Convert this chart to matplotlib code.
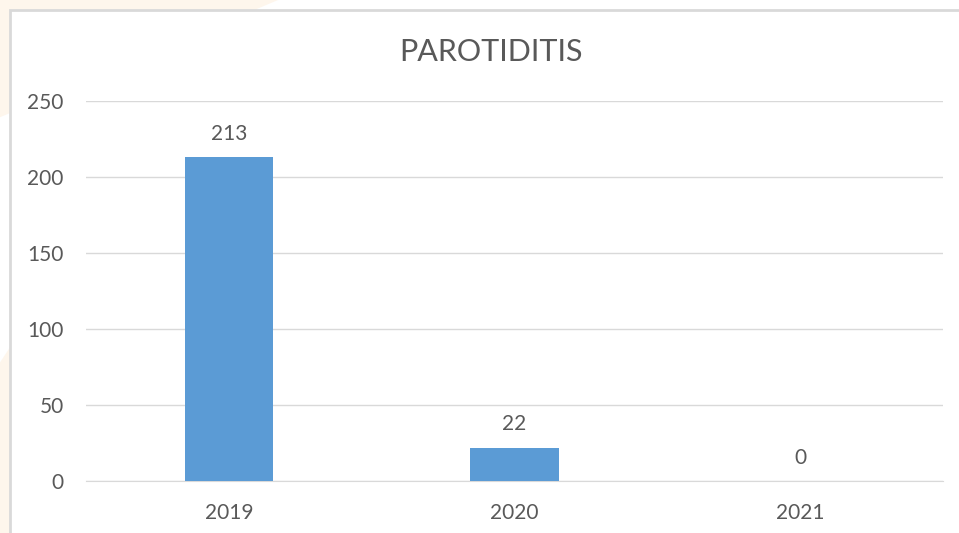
import matplotlib.pyplot as plt
from matplotlib.patches import Rectangle, Polygon

years = ["2019", "2020", "2021"]
cases = [213, 22, 0]
yticks = [0, 50, 100, 150, 200, 250]

TXT = "#595959"
plt.rcParams["font.family"] = ["Lato", "DejaVu Sans"]

fig = plt.figure(figsize=(9.59, 5.33), dpi=100)
fig.patch.set_facecolor("white")

# faint orange backdrop outside the chart frame
fig.patches.append(Polygon([(0, 1), (0.29, 1), (0, 0.78)], closed=True,
                           transform=fig.transFigure, facecolor="#FEF6EC",
                           edgecolor="none", zorder=0))
fig.patches.append(Polygon([(0, 0), (0.011, 0), (0.011, 0.35), (0, 0.32)], closed=True,
                           transform=fig.transFigure, facecolor="#FEF6EC",
                           edgecolor="none", zorder=0))
# chart frame
fig.patches.append(Rectangle((10 / 959, -0.1), 1.2, 1 - 10 / 533 + 0.1,
                             transform=fig.transFigure, facecolor="white",
                             edgecolor="#D9D9D9", linewidth=2, zorder=1))

ax = fig.add_axes([86 / 959, 1 - 481 / 533, (943 - 86) / 959, (481 - 101) / 533])
ax.set_facecolor("none")
ax.set_zorder(2)

x = [i + 0.5 for i in range(len(years))]
ax.bar(x, cases, width=0.31, color="#5B9BD5", zorder=3)
for xi, v in zip(x, cases):
    ax.annotate(str(v), (xi, v), xytext=(0, 9.5), textcoords="offset points",
                ha="center", va="bottom", fontsize=15, color=TXT)

ax.set_xlim(0, 3)
ax.set_ylim(0, 250)
ax.set_yticks(yticks)
ax.set_xticks(x)
ax.set_xticklabels(years)
ax.grid(axis="y", color="#D9D9D9", linewidth=1)
ax.set_axisbelow(True)
for s in ["top", "right", "left"]:
    ax.spines[s].set_visible(False)
ax.spines["bottom"].set_color("#D9D9D9")
ax.tick_params(length=0, colors=TXT, labelsize=15)
ax.tick_params(axis="y", pad=16)
ax.tick_params(axis="x", pad=16)

fig.text(491 / 959, 1 - 52 / 533, "PAROTIDITIS", ha="center", va="center",
         fontsize=22, color=TXT)

fig.savefig("out.png", dpi=100)
